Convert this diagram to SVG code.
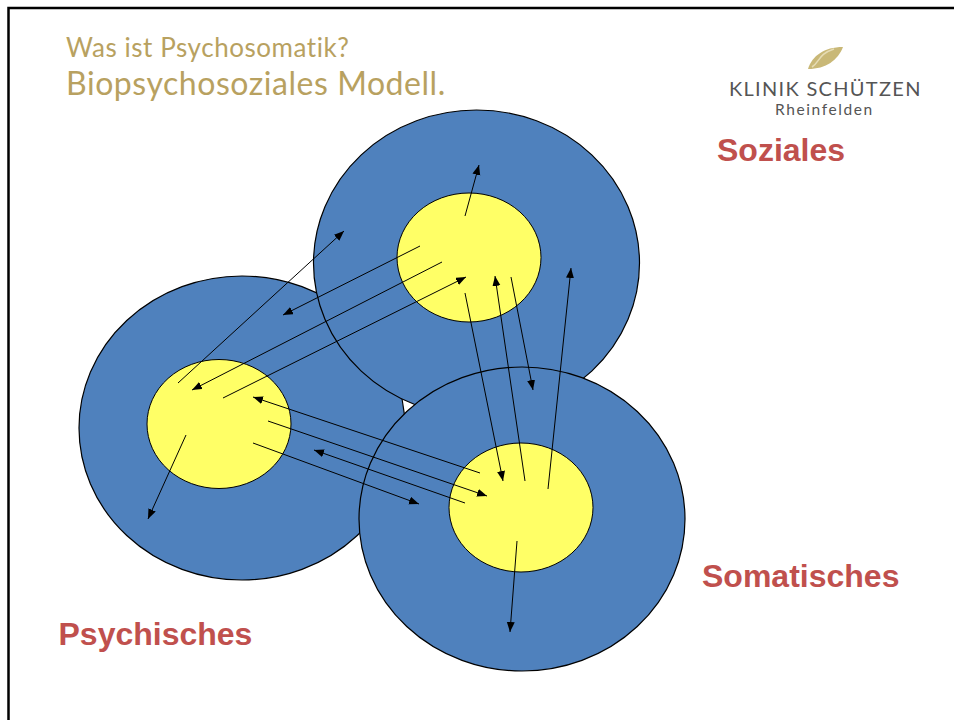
<svg xmlns="http://www.w3.org/2000/svg" width="954" height="720" viewBox="0 0 954 720">
<defs>
<marker id="ah" markerUnits="userSpaceOnUse" markerWidth="11" markerHeight="9" refX="10" refY="4" orient="auto"><path d="M0 0L10 4L0 8Z" fill="#000"/></marker>
</defs>
<style>
.outer{fill:#4f81bd;stroke:#000;stroke-width:1.2}
.inner{fill:#ffff66;stroke:#000;stroke-width:1}
.c line{stroke:#000;stroke-width:1;marker-end:url(#ah)}
.t{font-family:"Lato","Open Sans",sans-serif;fill:#b8a160}
.l{font-family:"Liberation Sans",Arial,sans-serif;font-weight:700;font-size:32px;fill:#c0504d}
.g{font-family:"Lato","Open Sans",sans-serif;fill:#555}
</style>
<rect width="954" height="720" fill="#fff"/>
<path d="M8.500 720V8H954" fill="none" stroke="#000" stroke-width="2.500"/>
<g id="title">
<text class="t" x="66" y="57" font-size="26" letter-spacing=".55">Was ist Psychosomatik?</text>
<text class="t" x="66" y="95" font-size="32" letter-spacing=".55">Biopsychosoziales Modell.</text>
</g>
<g id="logo">
<path d="M808 69C812 56 824 47 843 47C838 60 826 69 808 69Z" fill="#c9b877"/>
<path d="M812 67C820 62 818 54 834 49" fill="none" stroke="#e6dcb5" stroke-width="1.500"/>
<text class="g" x="729" y="96" font-size="20" letter-spacing="1.300">KLINIK SCHÜTZEN</text>
<text class="g" x="775" y="115" font-size="15.500" letter-spacing="1.600">Rheinfelden</text>
</g>
<g id="node-psychisches"><ellipse class="outer" cx="242" cy="428" rx="163" ry="152"/></g>
<g id="node-soziales"><ellipse class="outer" cx="476.500" cy="263" rx="163" ry="153"/><ellipse class="inner" cx="469" cy="257.500" rx="72" ry="64.500"/></g>
<g id="node-psychisches-inner"><ellipse class="inner" cx="219" cy="424" rx="72" ry="64.500"/></g>
<g id="node-somatisches"><ellipse class="outer" cx="522" cy="519" rx="163" ry="152"/><ellipse class="inner" cx="521" cy="507.500" rx="72" ry="64.500"/></g>
<g id="connectors" class="c">
<line x1="465" y1="216" x2="479" y2="165"/>
<line x1="178" y1="383" x2="344" y2="231"/>
<line x1="420" y1="246" x2="283" y2="315"/>
<line x1="442" y1="262" x2="192" y2="390"/>
<line x1="223" y1="398" x2="466" y2="277"/>
<line x1="465" y1="293" x2="503" y2="481"/>
<line x1="525" y1="481" x2="495" y2="276"/>
<line x1="511" y1="277" x2="533" y2="390"/>
<line x1="548" y1="489" x2="571" y2="268"/>
<line x1="186" y1="435" x2="148" y2="519"/>
<line x1="480" y1="473" x2="253" y2="397"/>
<line x1="268" y1="421" x2="487" y2="496"/>
<line x1="465" y1="503" x2="314" y2="450"/>
<line x1="253" y1="443" x2="419" y2="504"/>
<line x1="517" y1="541" x2="510" y2="632"/>
</g>
<text class="l" x="717" y="161">Soziales</text>
<text class="l" x="702" y="587">Somatisches</text>
<text class="l" x="58.500" y="645">Psychisches</text>
</svg>
